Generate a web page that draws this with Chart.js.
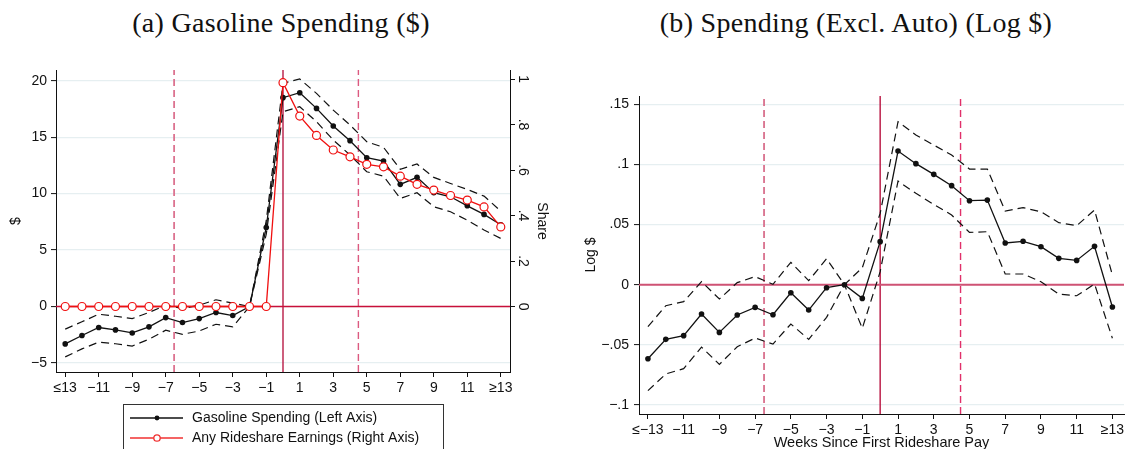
<!DOCTYPE html>
<html>
<head>
<meta charset="utf-8">
<script src="https://cdn.jsdelivr.net/npm/chart.js@4"></script>
<style>
  html, body { margin: 0; padding: 0; background: #fff; }
  body { width: 1128px; height: 449px; position: relative; overflow: hidden; }
  .panel { position: absolute; top: 0; height: 449px; }
  #panelA { left: 0; width: 560px; }
  #panelB { left: 560px; width: 568px; }
  .title {
    position: absolute; top: 7px; font-family: "Liberation Serif", "DejaVu Serif", serif;
    font-size: 28px; letter-spacing: 0.3px; color: #111; white-space: nowrap; transform: translateX(-50%);
  }
</style>
</head>
<body>
<div class="title" style="left:281px">(a) Gasoline Spending ($)</div>
<div class="title" style="left:856px">(b) Spending (Excl. Auto) (Log $)</div>
<div class="panel" id="panelA"><canvas id="chartA"></canvas></div>
<div class="panel" id="panelB"><canvas id="chartB"></canvas></div>
<script>
// ─── DATA ─────────────────────────────────────────────────
const weeks = [-13, -12, -11, -10, -9, -8, -7, -6, -5, -4, -3, -2, -1, 0,
               1, 2, 3, 4, 5, 6, 7, 8, 9, 10, 11, 12, 13];

// (a) gasoline spending, $ (left axis) with 95% bands
const gasMean  = [-3.31, -2.57, -1.86, -2.07, -2.34, -1.80, -0.98, -1.42, -1.07, -0.53, -0.80, 0, 7.0, 18.5,
                  18.94, 17.55, 15.99, 14.69, 13.18, 12.88, 10.82, 11.44, 10.08, 9.72, 8.92, 8.16, 7.24];
const gasUpper = [-2.0, -1.35, -0.68, -0.86, -1.07, -0.53, 0.12, -0.18, 0.12, 0.6, 0.3, 0, 7.6, 19.77,
                  20.15, 18.88, 17.4, 16.08, 14.6, 14.1, 12.15, 12.62, 11.44, 10.9, 10.37, 9.78, 8.45];
const gasLower = [-4.46, -3.75, -3.16, -3.3, -3.5, -2.9, -2.1, -2.46, -2.17, -1.57, -1.8, 0, 6.4, 17.26,
                  17.7, 16.37, 14.75, 13.42, 11.94, 11.55, 9.57, 10.08, 8.84, 8.39, 7.65, 6.77, 6.03];
// share with any rideshare earnings (right axis)
const rideShare = [0, 0, 0, 0, 0, 0, 0, 0, 0, 0, 0, 0, 0, 0.984,
                   0.837, 0.752, 0.688, 0.658, 0.625, 0.614, 0.573, 0.537, 0.512, 0.488, 0.468, 0.438, 0.350];

// (b) log spending excl. auto with 95% bands
const logMean  = [-0.0616, -0.0455, -0.0424, -0.0244, -0.0397, -0.0252, -0.0189, -0.025, -0.0067, -0.0211, -0.0025, 0, -0.0114, 0.0358,
                  0.1112, 0.1007, 0.0918, 0.0824, 0.0699, 0.0704, 0.0347, 0.0361, 0.0316, 0.0219, 0.0202, 0.0319, -0.0186];
const logUpper = [-0.0349, -0.0175, -0.0141, 0.0025, -0.0119, 0.0017, 0.0067, 0.0003, 0.0186, 0.0033, 0.0216, 0, 0.0141, 0.0593,
                  0.1356, 0.1245, 0.1162, 0.1079, 0.0962, 0.0962, 0.0613, 0.0641, 0.0607, 0.0516, 0.0491, 0.0621, 0.008];
const logLower = [-0.0882, -0.0743, -0.0699, -0.0519, -0.0663, -0.0516, -0.0444, -0.0494, -0.0327, -0.0455, -0.0272, 0, -0.0363, 0.0108,
                  0.0862, 0.076, 0.0668, 0.058, 0.0435, 0.0441, 0.0089, 0.0089, 0.0025, -0.0078, -0.0092, 0.0006, -0.0446];

// ticks
const weekTicks = [-13, -11, -9, -7, -5, -3, -1, 1, 3, 5, 7, 9, 11, 13];
const weekLabelsA = ['≤13', '−11', '−9', '−7', '−5', '−3', '−1', '1', '3', '5', '7', '9', '11', '≥13'];
const weekLabelsB = ['≤−13', '−11', '−9', '−7', '−5', '−3', '−1', '1', '3', '5', '7', '9', '11', '≥13'];
const gasTicks = [-5, 0, 5, 10, 15, 20];
const gasTickLabels = ['−5', '0', '5', '10', '15', '20'];
const shareTicks = [0, 0.2, 0.4, 0.6, 0.8, 1];
const shareTickLabels = ['0', '.2', '.4', '.6', '.8', '1'];
const logTicks = [-0.1, -0.05, 0, 0.05, 0.1, 0.15];
const logTickLabels = ['−.1', '−.05', '0', '.05', '.1', '.15'];

// event markers (weeks)
const firstPayWeek = 0;
const windowLines = [-6.5, 4.5];

// axis ranges
const gasRange = [-5.8, 20.95];
const shareScale = 20.15;          // $ per unit of share on the twin axis
const logRange = [-0.1076, 0.157];
const weekRangeA = [-13.55, 13.55];
const weekRangeB = [-13.5, 13.65];

// ─── HELPERS ──────────────────────────────────────────────
const FONT = '"Liberation Sans", Arial, sans-serif';
const INK = '#111';
const GRID = '#e6eff1';

const pts = (ys) => weeks.map((w, i) => ({ x: w, y: ys[i] }));
const vline = (x, range) => [{ x: x, y: range[0] }, { x: x, y: range[1] }];
const hline = (y, range) => [{ x: range[0], y: y }, { x: range[1], y: y }];

function refLine(data, color, width, dash, axis) {
    return {
        data, borderColor: color, borderWidth: width, borderDash: dash || [],
        pointRadius: 0, yAxisID: axis || 'y', order: 10, fill: false, tension: 0,
    };
}

function band(ys, axis) {
    return {
        data: pts(ys), borderColor: '#111', borderWidth: 1.2, borderDash: [8, 5],
        pointRadius: 0, yAxisID: axis || 'y', order: 2, fill: false, tension: 0,
    };
}

function fixTicks(values) {
    return (scale) => { scale.ticks = values.map(v => ({ value: v })); };
}

function weekAxis(range, labels, extra) {
    return Object.assign({
        type: 'linear', min: range[0], max: range[1],
        afterBuildTicks: fixTicks(weekTicks),
        ticks: {
            autoSkip: false, maxRotation: 0, minRotation: 0, padding: 3,
            color: INK, font: { family: FONT, size: 14 },
            callback: (v) => labels[weekTicks.indexOf(v)] ?? '',
        },
        grid: { drawOnChartArea: false, drawTicks: true, tickLength: 5, tickColor: '#111', tickWidth: 1 },
        border: { display: true, color: '#111', width: 1 },
    }, extra);
}

// rotated labels for the twin share axis
const shareTickPlugin = {
    id: 'shareTicks',
    afterDraw(chart) {
        const s = chart.scales.y2;
        if (!s) return;
        const ctx = chart.ctx;
        ctx.save();
        ctx.font = '14px ' + FONT;
        ctx.fillStyle = INK;
        ctx.textAlign = 'center';
        ctx.textBaseline = 'middle';
        shareTicks.forEach((v, i) => {
            ctx.save();
            ctx.translate(s.left + 13, s.getPixelForValue(v));
            ctx.rotate(Math.PI / 2);
            ctx.fillText(shareTickLabels[i], 0, 0);
            ctx.restore();
        });
        ctx.restore();
    }
};

// boxed legend under panel (a)
const boxLegendPlugin = {
    id: 'boxLegend',
    afterDraw(chart) {
        const ctx = chart.ctx;
        const items = chart.data.datasets.filter(d => d.inLegend);
        ctx.save();
        ctx.strokeStyle = '#333';
        ctx.lineWidth = 1;
        ctx.strokeRect(123.5, 404.5, 320, 60);
        ctx.font = '14px ' + FONT;
        ctx.textBaseline = 'middle';
        items.forEach((d, i) => {
            const y = 418 + i * 20;
            ctx.strokeStyle = d.legendColor;
            ctx.lineWidth = 1.3;
            ctx.beginPath(); ctx.moveTo(130, y); ctx.lineTo(183, y); ctx.stroke();
            ctx.beginPath();
            ctx.arc(157, y, d.pointRadius > 3 ? 3.2 : 2.4, 0, Math.PI * 2);
            if (d.hollow) { ctx.fillStyle = '#fff'; ctx.fill(); ctx.stroke(); }
            else { ctx.fillStyle = d.legendColor; ctx.fill(); }
            ctx.fillStyle = INK;
            ctx.fillText(d.label, 192, y);
        });
        ctx.restore();
    }
};

// ─── (a) GASOLINE SPENDING ────────────────────────────────
new Chart(document.getElementById('chartA'), {
    type: 'line',
    data: {
        datasets: [
            {
                label: 'Gasoline Spending (Left Axis)', inLegend: true, legendColor: '#111',
                data: pts(gasMean), borderColor: '#111', backgroundColor: '#111', borderWidth: 1.3,
                pointRadius: 2.8, pointBorderWidth: 0, yAxisID: 'y', order: 1, tension: 0,
            },
            {
                label: 'Any Rideshare Earnings (Right Axis)', inLegend: true, hollow: true, legendColor: '#f03030',
                data: pts(rideShare), borderColor: '#f01010', backgroundColor: '#fff', borderWidth: 1.3,
                pointRadius: 4, pointBorderWidth: 1.2, pointBorderColor: '#f01010', pointBackgroundColor: '#fff',
                yAxisID: 'y2', order: 0, tension: 0,
            },
            band(gasUpper),
            band(gasLower),
            refLine(hline(0, weekRangeA), '#c8103a', 1.4),
            refLine(vline(firstPayWeek, gasRange), '#b81b45', 1.4),
            refLine(vline(windowLines[0], gasRange), '#dc7390', 1.8, [7, 4]),
            refLine(vline(windowLines[1], gasRange), '#dc5a80', 1.4, [7, 4]),
        ]
    },
    options: {
        responsive: true, maintainAspectRatio: false, animation: false, events: [],
        layout: { padding: { top: 70, left: 0, right: 0, bottom: 0 } },
        plugins: { legend: { display: false }, tooltip: { enabled: false } },
        scales: {
            x: weekAxis(weekRangeA, weekLabelsA, { afterFit: (s) => { s.height = 77; } }),
            y: {
                type: 'linear', position: 'left', min: gasRange[0], max: gasRange[1],
                afterBuildTicks: fixTicks(gasTicks),
                afterFit: (s) => { s.width = 56; },
                ticks: {
                    padding: 4, color: INK, font: { family: FONT, size: 14 },
                    callback: (v) => gasTickLabels[gasTicks.indexOf(v)] ?? '',
                },
                grid: { color: GRID, lineWidth: 1.2, drawTicks: true, tickLength: 5, tickColor: '#111', tickWidth: 1 },
                border: { display: true, color: '#111', width: 1 },
                title: { display: true, text: '$', color: INK, font: { family: FONT, size: 14 }, padding: { top: 8, bottom: 0 } },
            },
            y2: {
                type: 'linear', position: 'right', min: gasRange[0] / shareScale, max: gasRange[1] / shareScale,
                afterBuildTicks: fixTicks(shareTicks),
                afterFit: (s) => { s.width = 50; },
                ticks: { display: false },
                grid: { drawOnChartArea: false, drawTicks: true, tickLength: 5, tickColor: '#111', tickWidth: 1 },
                border: { display: true, color: '#111', width: 1 },
                title: { display: true, text: 'Share', color: INK, font: { family: FONT, size: 14 }, padding: { top: 10, bottom: 0 } },
            },
        }
    },
    plugins: [shareTickPlugin, boxLegendPlugin]
});

// ─── (b) LOG SPENDING EXCL. AUTO ──────────────────────────
new Chart(document.getElementById('chartB'), {
    type: 'line',
    data: {
        datasets: [
            {
                label: 'Spending (Excl. Auto)',
                data: pts(logMean), borderColor: '#111', backgroundColor: '#111', borderWidth: 1.3,
                pointRadius: 2.8, pointBorderWidth: 0, order: 1, tension: 0,
            },
            band(logUpper),
            band(logLower),
            refLine(hline(0, weekRangeB), '#cf5274', 2),
            refLine(vline(firstPayWeek, logRange), '#b8123f', 1.4),
            refLine(vline(windowLines[0], logRange), '#d9708d', 1.8, [7, 4]),
            refLine(vline(windowLines[1], logRange), '#e0306a', 1.4, [7, 4]),
        ]
    },
    options: {
        responsive: true, maintainAspectRatio: false, animation: false, events: [],
        layout: { padding: { top: 96, left: 0, right: 2, bottom: 0 } },
        plugins: { legend: { display: false }, tooltip: { enabled: false } },
        scales: {
            x: weekAxis(weekRangeB, weekLabelsB, {
                afterFit: (s) => { s.height = 35; },
                title: {
                    display: true, text: 'Weeks Since First Rideshare Pay', color: INK,
                    font: { family: FONT, size: 14.5 }, padding: { top: 0, bottom: -3 },
                },
            }),
            y: {
                type: 'linear', position: 'left', min: logRange[0], max: logRange[1],
                afterBuildTicks: fixTicks(logTicks),
                afterFit: (s) => { s.width = 79; },
                ticks: {
                    padding: 5, color: INK, font: { family: FONT, size: 14 },
                    callback: (v) => logTickLabels[logTicks.findIndex(t => Math.abs(t - v) < 1e-9)] ?? '',
                },
                grid: { color: GRID, lineWidth: 1.2, drawTicks: true, tickLength: 5, tickColor: '#111', tickWidth: 1 },
                border: { display: true, color: '#111', width: 1 },
                title: { display: true, text: 'Log $', color: INK, font: { family: FONT, size: 14 }, padding: { top: 23, bottom: 0 } },
            },
        }
    }
});
</script>
</body>
</html>
